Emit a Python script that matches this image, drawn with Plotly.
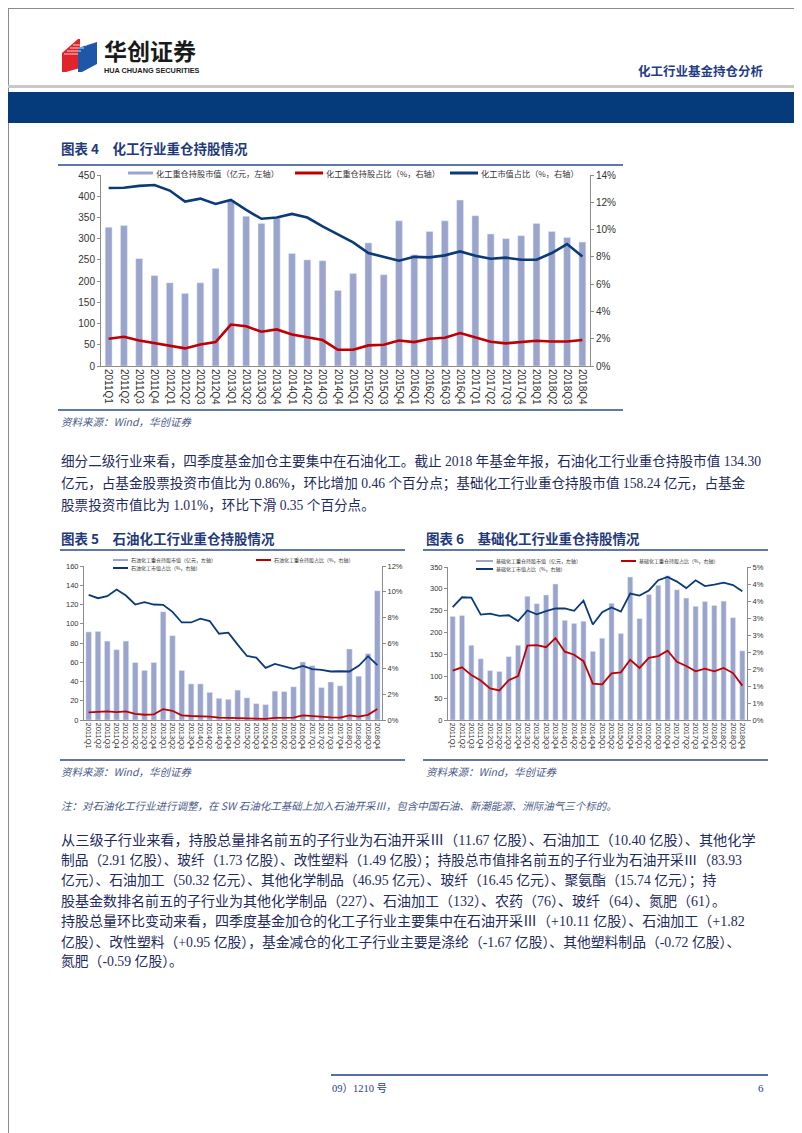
import plotly.graph_objects as go

W, H = 802, 1133

quarters = ["2011Q1","2011Q2","2011Q3","2011Q4","2012Q1","2012Q2","2012Q3","2012Q4",
            "2013Q1","2013Q2","2013Q3","2013Q4","2014Q1","2014Q2","2014Q3","2014Q4",
            "2015Q1","2015Q2","2015Q3","2015Q4","2016Q1","2016Q2","2016Q3","2016Q4",
            "2017Q1","2017Q2","2017Q3","2017Q4","2018Q1","2018Q2","2018Q3","2018Q4"]

# Chart 4: 化工
c4_bar = [327,331,253,213,196,171,196,230,390,353,336,348,265,250,248,178,
          218,290,215,342,262,317,342,391,354,311,300,307,336,317,303,292]
c4_red = [2.00,2.14,1.87,1.68,1.51,1.29,1.58,1.75,3.04,2.92,2.51,2.68,2.31,2.12,1.90,1.19,
          1.19,1.51,1.56,1.87,1.75,2.00,2.07,2.41,2.07,1.78,1.66,1.73,1.85,1.80,1.80,1.90]
c4_blue = [13.05,13.07,13.20,13.27,12.86,12.05,12.27,11.88,12.17,11.44,10.79,10.88,11.15,10.88,10.23,9.62,
           9.06,8.28,7.99,7.72,8.00,7.96,8.11,8.40,8.08,7.86,7.94,7.79,7.79,8.28,8.94,8.03]

# Chart 5: 石油化工
c5_bar = [91.5,92,82,73,82,59.7,51.5,59.7,112.4,87.6,51.5,37.5,37.5,28.7,22.5,21.5,
          31,23,17,16,30,29.5,34.5,60.3,56.5,33.7,39.5,35.5,73.8,45.5,69,134.3]
c5_red = [0.59,0.65,0.67,0.62,0.67,0.47,0.41,0.44,0.85,0.72,0.36,0.31,0.31,0.26,0.18,0.16,
          0.16,0.10,0.10,0.08,0.16,0.16,0.18,0.36,0.31,0.21,0.21,0.18,0.36,0.26,0.40,0.86]
c5_blue = [9.75,9.49,9.65,10.16,9.70,9.00,9.18,9.00,8.97,8.43,7.60,7.60,7.89,7.71,6.72,6.80,
           5.87,4.99,4.86,4.06,4.37,4.16,3.98,4.22,3.96,3.90,3.78,3.80,3.78,4.22,4.97,4.27]

# Chart 6: 基础化工
c6_bar = [237,239,171,140,113,111,145,171,283,266,286,311,228,221,226,157,
          187,267,198,327,232,287,308,330,298,279,260,271,262,272,234,158.2]
c6_red = [1.45,1.55,1.32,1.16,0.93,0.87,1.17,1.29,2.19,2.20,2.14,2.41,2.01,1.92,1.73,1.07,
          1.05,1.37,1.40,1.77,1.53,1.83,1.88,2.04,1.71,1.59,1.43,1.51,1.43,1.53,1.38,1.01]
c6_blue = [3.32,3.61,3.60,3.10,3.13,3.06,3.08,2.91,3.22,3.11,3.20,3.28,3.28,3.21,3.51,2.81,
           3.17,3.31,3.19,3.72,3.66,3.81,4.11,4.21,4.07,3.88,4.11,3.94,3.98,4.04,3.97,3.79]
c6_right_ticks = [0,0.5,1,1.5,2,2.5,3,3.5,4,4.5]
c6_right_text = ["0%","1%","1%","2%","2%","3%","3%","4%","4%","5%"]

legend4 = ["化工重仓持股市值（亿元，左轴）","化工重仓持股占比（%，右轴）","化工市值占比（%，右轴）"]
legend5 = ["石油化工重仓持股市值（亿元，左轴）","石油化工重仓持股占比（%，右轴）","石油化工市值占比（%，右轴）"]
legend6 = ["基础化工重仓持股市值（亿元，左轴）","基础化工重仓持股占比（%，右轴）","基础化工市值占比（%，右轴）"]

para1 = ["细分二级行业来看，四季度基金加仓主要集中在石油化工。截止 2018 年基金年报，石油化工行业重仓持股市值 134.30",
         "亿元，占基金股票投资市值比为 0.86%，环比增加 0.46 个百分点；基础化工行业重仓持股市值 158.24 亿元，占基金",
         "股票投资市值比为 1.01%，环比下滑 0.35 个百分点。"]
para2 = ["从三级子行业来看，持股总量排名前五的子行业为石油开采Ⅲ（11.67 亿股）、石油加工（10.40 亿股）、其他化学",
         "制品（2.91 亿股）、玻纤（1.73 亿股）、改性塑料（1.49 亿股）；持股总市值排名前五的子行业为石油开采Ⅲ（83.93",
         "亿元）、石油加工（50.32 亿元）、其他化学制品（46.95 亿元）、玻纤（16.45 亿元）、聚氨酯（15.74 亿元）；持",
         "股基金数排名前五的子行业为其他化学制品（227）、石油加工（132）、农药（76）、玻纤（64）、氮肥（61）。",
         "持股总量环比变动来看，四季度基金加仓的化工子行业主要集中在石油开采Ⅲ（+10.11 亿股）、石油加工（+1.82",
         "亿股）、改性塑料（+0.95 亿股），基金减仓的化工子行业主要是涤纶（-1.67 亿股）、其他塑料制品（-0.72 亿股）、",
         "氮肥（-0.59 亿股）。"]
para2_sizes = [14.2, 13.7, 13.8, 14.0, 14.0, 13.8, 13.8]
note = "注：对石油化工行业进行调整，在 SW 石油化工基础上加入石油开采Ⅲ，包含中国石油、新潮能源、洲际油气三个标的。"
source = "资料来源：Wind，华创证券"

BAR = "#9AA4CD"
RED = "#C00000"
BLUE = "#0B3A78"
NAVY = "#1F3A7A"
TEXT = "#1E2B5E"
AXC = "#8C8C8C"
SERIF = "Liberation Serif, Noto Sans CJK SC"
CJK = "Noto Sans CJK SC"
SANS = "Liberation Sans, Arial"

def px(x): return x / W
def py(y): return 1 - y / H

fig = go.Figure()

def add_chart(xa, ya, ya2, bars, red, blue, bw, lw):
    fig.add_trace(go.Bar(x=quarters, y=bars, marker_color=BAR, width=bw,
                         xaxis=xa, yaxis=ya, showlegend=False))
    fig.add_trace(go.Scatter(x=quarters, y=red, mode="lines", line=dict(color=RED, width=lw),
                             xaxis=xa, yaxis=ya2, showlegend=False))
    fig.add_trace(go.Scatter(x=quarters, y=blue, mode="lines", line=dict(color=BLUE, width=lw),
                             xaxis=xa, yaxis=ya2, showlegend=False))

add_chart("x", "y", "y2", c4_bar, c4_red, c4_blue, 0.45, 2.6)
add_chart("x2", "y3", "y4", c5_bar, c5_red, c5_blue, 0.6, 1.8)
add_chart("x3", "y5", "y6", c6_bar, c6_red, c6_blue, 0.55, 1.8)

def xaxis(dom, anchor, fs):
    return dict(domain=[px(dom[0]), px(dom[1])], anchor=anchor, type="category",
                range=[-0.5, 31.5], tickangle=90, showline=True, linecolor=AXC, linewidth=1,
                ticks="", tickfont=dict(family=SANS, size=fs, color="#333"), showgrid=False,
                automargin=False)

def yaxis(dom, anchor, rng, dt, fs, side="left", overlay=None, suffix="", tv=None, tt=None):
    d = dict(domain=[py(dom[1]), py(dom[0])], anchor=anchor, range=rng, dtick=dt, side=side,
             showline=True, linecolor=AXC, linewidth=1, ticks="outside", ticklen=3,
             tickcolor=AXC, tickfont=dict(family=SANS, size=fs, color="#333"),
             showgrid=False, zeroline=False, ticksuffix=suffix, automargin=False)
    if overlay:
        d["overlaying"] = overlay
    if tv is not None:
        d["tickmode"] = "array"; d["tickvals"] = tv; d["ticktext"] = tt
        d.pop("dtick"); d["ticksuffix"] = ""
    return d

fig.update_layout(
    width=W, height=H, margin=dict(l=0, r=0, t=0, b=0),
    paper_bgcolor="white", plot_bgcolor="rgba(0,0,0,0)", bargap=0.5,
    xaxis=xaxis((93, 582), "y", 10),
    yaxis=yaxis((167, 358), "x", [0, 450], 50, 10),
    yaxis2=yaxis((167, 358), "x", [0, 14], 2, 10, side="right", overlay="y", suffix="%"),
    xaxis2=xaxis((76, 374), "y3", 7.5),
    yaxis3=yaxis((558, 712), "x2", [0, 160], 20, 7.5),
    yaxis4=yaxis((558, 712), "x2", [0, 12], 2, 7.5, side="right", overlay="y3", suffix="%"),
    xaxis3=xaxis((440, 739), "y5", 7.5),
    yaxis5=yaxis((559, 712), "x3", [0, 350], 50, 7.5),
    yaxis6=yaxis((559, 712), "x3", [0, 4.5], 0.5, 7.5, side="right", overlay="y5",
                 tv=c6_right_ticks, tt=c6_right_text),
)

shapes = []
ann = []

def line(x0, y0, x1, y1, color, w):
    shapes.append(dict(type="line", xref="paper", yref="paper", x0=px(x0), y0=py(y0),
                       x1=px(x1), y1=py(y1), line=dict(color=color, width=w)))

def rect(x0, y0, x1, y1, color, lc=None, lw=0):
    shapes.append(dict(type="rect", xref="paper", yref="paper", x0=px(x0), y0=py(y0),
                       x1=px(x1), y1=py(y1), fillcolor=color, line=dict(color=lc or color, width=lw)))

def path(pts, color):
    d = "M " + " L ".join(f"{px(a):.5f},{py(b):.5f}" for a, b in pts) + " Z"
    shapes.append(dict(type="path", xref="paper", yref="paper", path=d, fillcolor=color,
                       line=dict(width=0)))

def text(x, y, s, size, color, family=CJK, xanchor="left"):
    ann.append(dict(x=px(x), y=py(y), xref="paper", yref="paper", text=s, showarrow=False,
                    xanchor=xanchor, yanchor="middle", borderpad=0,
                    font=dict(family=family, size=size, color=color)))

# page border
shapes.append(dict(type="rect", xref="paper", yref="paper", x0=0, y0=0, x1=1, y1=1,
                   line=dict(color="#8c8c8c", width=2), fillcolor="rgba(0,0,0,0)"))

# header logo
path([(54, 45), (70, 31), (72, 31), (72, 60), (58, 64), (54, 64)], "#E0242B")
path([(70, 40), (89, 34), (89, 56), (74, 64), (70, 64)], "#1F56A8")
for i in range(4):
    line(56 + i * 3, 46 - i * 3, 70 + i * 3, 34 - i * 3 + 12, "white", 0.8)
text(95, 42, "<b>华创证券</b>", 23, "#1a1a1a")
text(95, 62, "<b>HUA CHUANG SECURITIES</b>", 7.3, "#1a1a1a", family=SANS)
text(757, 62, "<b>化工行业基金持仓分析</b>", 12.5, "#1F3C88", xanchor="right")
rect(0, 77, W, 80, "#C8C8C8")
rect(0, 84, W, 115, "#053A7B")

# chart 4 frame
text(52, 140, "<b>图表 4　化工行业重仓持股情况</b>", 13.5, NAVY)
line(50, 157, 615, 157, "#2B4A8C", 1.5)
rect(120, 163.5, 145, 166.5, BAR)
text(147, 165, legend4[0], 8.2, "#333")
line(287, 165, 315, 165, RED, 3)
text(317, 165, legend4[1], 8.2, "#333")
line(442, 165, 470, 165, BLUE, 3)
text(472, 165, legend4[2], 8.2, "#333")
line(50, 402, 615, 402, "#2B4A8C", 1.5)
text(52, 413, "<i>" + source + "</i>", 10.5, "#4A5A8A")

for i, s in enumerate(para1):
    text(52, 453 + i * 22, s, 13.6, TEXT, family=SERIF)

# chart 5 frame
text(52, 530, "<b>图表 5　石油化工行业重仓持股情况</b>", 13.5, NAVY)
line(52, 542, 397, 542, "#2B4A8C", 1.5)
rect(105, 551, 120, 553, BAR)
text(122, 552, legend5[0], 5, "#333")
line(248, 552, 263, 552, RED, 2)
text(265, 552, legend5[1], 5, "#333")
line(105, 560, 120, 560, BLUE, 2)
text(122, 560, legend5[2], 5, "#333")
line(52, 752, 397, 752, "#2B4A8C", 1.5)
text(52, 763, "<i>" + source + "</i>", 10.5, "#4A5A8A")

# chart 6 frame
text(417, 530, "<b>图表 6　基础化工行业重仓持股情况</b>", 13.5, NAVY)
line(415, 542, 760, 542, "#2B4A8C", 1.5)
rect(468, 552, 485, 554, BAR)
text(487, 553, legend6[0], 5, "#333")
line(613, 553, 628, 553, RED, 2)
text(630, 553, legend6[1], 5, "#333")
line(468, 561, 485, 561, BLUE, 2)
text(487, 561, legend6[2], 5, "#333")
line(415, 752, 760, 752, "#2B4A8C", 1.5)
text(417, 763, "<i>" + source + "</i>", 10.5, "#4A5A8A")

text(52, 797, "<i>" + note + "</i>", 10.5, "#4A5A8A")

for i, s in enumerate(para2):
    text(52, 832 + i * 20.3, s, para2_sizes[i], TEXT, family=SERIF)

# footer
line(323, 1067, 760, 1067, "#1F3C88", 1.5)
text(323, 1080, "09）1210 号", 10.5, "#1F3C88", family=SERIF)
text(757, 1080, "6", 11, "#1F3C88", family=SERIF, xanchor="right")

fig.update_layout(shapes=shapes, annotations=ann)
fig.write_html("out.html")
